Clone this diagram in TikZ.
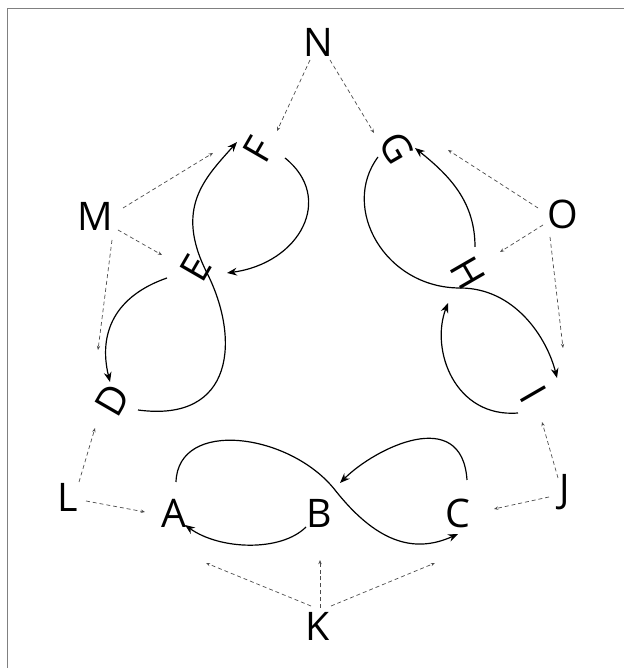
\documentclass[tikz,border=0pt]{standalone}
\usepackage{fontspec}
\setmainfont{Open Sans}
\usetikzlibrary{arrows.meta}

\begin{document}
\begin{tikzpicture}[x=0.025cm, y=0.025cm,
  letter/.style={inner sep=0pt, font=\fontsize{28}{30}\selectfont},
  flow/.style={line width=0.85pt, -{Stealth[length=7pt,width=5.5pt]}},
  hint/.style={line width=0.5pt, gray!60!black, dash pattern=on 2.8pt off 2.1pt, -{Stealth[length=3pt,width=2.4pt]}}]

% Fix the page size
\useasboundingbox (0,0) rectangle (624,668);

% Draw the frame
\draw[gray, line width=0.7pt] (7,0) -- (7,659) -- (624,659);

% Place the letters
\foreach \name/\x/\y/\r in {A/174/155/0, B/319/155/0, C/458/155/0,
    D/113/268/60, E/196/400/60, F/258/518/60,
    G/397/520/-60, H/468/395/-60, I/533/274/-60,
    J/565/176/0, K/318/42/0, L/68/171/0, M/95/452/0, N/318/626/0, O/563/454/0}
  \node[letter, rotate=\r] (\name) at (\x,\y) {\name};

% Bottom loop
\draw[flow] ([shift={(2,31)}]A.center) .. controls +(2,64) and +(-45,57) .. ([shift={(16,23)}]B.center)
  .. controls +(45,-57) and +(-40,-18) .. ([shift={(0,-21)}]C.center);
\draw[flow] ([shift={(9,33)}]C.center) .. controls +(-5,75) and +(35,35) .. ([shift={(21,30)}]B.center);
\draw[flow] ([shift={(-13,-14)}]B.center) .. controls +(-25,-25) and +(35,-25) .. ([shift={(11,-12)}]A.center);

% Left loop
\draw[flow] ([shift={(25,-10)}]D.center) .. controls +(97,-13) and +(33,-65) .. ([shift={(11,-5)}]E.center)
  .. controls +(-33,65) and +(-32,-36) .. ([shift={(-21,8)}]F.center);
\draw[flow] ([shift={(27,-8)}]F.center) .. controls +(50,-40) and +(73,10) .. ([shift={(31,-5)}]E.center);
\draw[flow] ([shift={(-29,-10)}]E.center) .. controls +(-52,-18) and +(-12,49) .. ([shift={(-3,18)}]D.center);

% Right loop
\draw[flow] ([shift={(-19,-9)}]G.center) .. controls +(-38,-51) and +(-75,0) .. ([shift={(-8,-15)}]H.center)
  .. controls +(55,0) and +(-10,40) .. ([shift={(24,16)}]I.center);
\draw[flow] ([shift={(7,26)}]H.center) .. controls +(0,45) and +(35,-28) .. ([shift={(18,0)}]G.center);
\draw[flow] ([shift={(-15,-19)}]I.center) .. controls +(-63,-5) and +(-18,-47) .. ([shift={(-20,-30)}]H.center);

% Dashed hints from the outer letters
\foreach \src/\sx/\sy/\dst/\dx/\dy in {N/-8/-18/F/19/19, N/12/-18/G/-23/15,
    M/28/8/F/-45/-3, M/23/-14/E/-34/13, M/17/-24/D/-15/50,
    O/-25/6/G/51/-2, O/-20/-11/H/32/21, O/-13/-23/I/30/46,
    L/11/15/D/-18/-28, L/18/-4/A/-29/1,
    J/-7/14/I/9/-28, J/-16/-5/C/36/4,
    K/-7/20/A/32/-50, K/2/18/B/1/-47, K/13/20/C/-23/-50}
  \draw[hint] ([shift={(\sx,\sy)}]\src.center) -- ([shift={(\dx,\dy)}]\dst.center);

\end{tikzpicture}
\end{document}
